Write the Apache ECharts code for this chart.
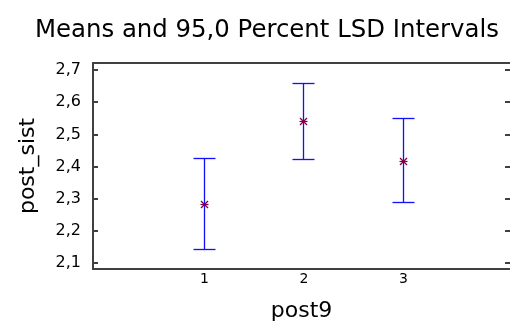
<!DOCTYPE html>
<html><head><meta charset="utf-8">
<script src="https://cdn.jsdelivr.net/npm/echarts@6/dist/echarts.min.js"></script>
<style>html,body{margin:0;padding:0;background:#fff}#c{width:510px;height:327px}</style>
</head><body><div id="c"></div>
<script>
const categories = [1, 2, 3];
const means = [2.283, 2.541, 2.416];
const lower = [2.143, 2.423, 2.288];
const upper = [2.425, 2.659, 2.549];
const yTicks = [2.1, 2.2, 2.3, 2.4, 2.5, 2.6, 2.7];
const titleText = 'Means and 95,0 Percent LSD Intervals';
const xName = 'post9';
const yName = 'post_sist';

const FONT = '"DejaVu Sans", sans-serif';
const chart = echarts.init(document.getElementById('c'), null, {renderer: 'canvas'});
const fmt = v => v.toFixed(1).replace('.', ',');
const axisCol = '#404040';

const barData = categories.map((c, i) => [c, lower[i], upper[i]]);
const meanData = categories.map((c, i) => [c, means[i]]);
const px = v => Math.round(v - 0.5) + 0.5;

chart.setOption({
  animation: false,
  title: {
    text: titleText, left: 30, top: 14,
    textStyle: {fontFamily: FONT, fontSize: 24.4, fontWeight: 'normal', color: '#000'}
  },
  grid: {left: 93, right: 0, top: 63, bottom: 58},
  xAxis: [{
    type: 'value', min: -0.12, max: 4.07, position: 'bottom',
    name: xName, nameLocation: 'middle', nameGap: 31,
    nameTextStyle: {fontFamily: FONT, fontSize: 22, color: '#000'},
    axisLine: {show: true, onZero: false, lineStyle: {color: axisCol, width: 2}},
    axisTick: {show: false},
    splitLine: {show: false},
    axisLabel: {customValues: categories, fontFamily: FONT, fontSize: 14, color: '#000', margin: 3,
      formatter: v => String(v)}
  }, {
    type: 'value', min: -0.12, max: 4.07, position: 'top',
    axisLine: {show: true, onZero: false, lineStyle: {color: axisCol, width: 2}},
    axisTick: {show: false}, axisLabel: {show: false}, splitLine: {show: false}
  }],
  yAxis: [{
    type: 'value', min: 2.081, max: 2.722, position: 'left',
    name: yName, nameLocation: 'middle', nameGap: 54,
    nameTextStyle: {fontFamily: FONT, fontSize: 22, color: '#000'},
    axisLine: {show: true, onZero: false, lineStyle: {color: axisCol, width: 2}},
    axisTick: {show: true, inside: true, length: 5, customValues: yTicks, lineStyle: {color: axisCol, width: 2}},
    splitLine: {show: false},
    axisLabel: {customValues: yTicks, formatter: fmt, fontFamily: FONT, fontSize: 16, color: '#000', margin: 12}
  }, {
    type: 'value', min: 2.081, max: 2.722, position: 'right',
    axisLine: {show: false, onZero: false},
    axisTick: {show: true, inside: true, length: 5, customValues: yTicks, lineStyle: {color: axisCol, width: 2}},
    splitLine: {show: false}, axisLabel: {show: false}
  }],
  series: [{
    type: 'custom', xAxisIndex: 0, yAxisIndex: 0,
    data: barData,
    renderItem: function (params, api) {
      const x = px(api.coord([api.value(0), api.value(1)])[0]);
      const yl = px(api.coord([api.value(0), api.value(1)])[1]);
      const yu = px(api.coord([api.value(0), api.value(2)])[1]);
      const w = 11;
      const st = {stroke: '#1010ff', lineWidth: 1.3};
      return {type: 'group', children: [
        {type: 'line', shape: {x1: x, y1: yl, x2: x, y2: yu}, style: st},
        {type: 'line', shape: {x1: x - w, y1: yl, x2: x + w, y2: yl}, style: st},
        {type: 'line', shape: {x1: x - w, y1: yu, x2: x + w, y2: yu}, style: st}
      ]};
    }
  }, {
    type: 'custom', xAxisIndex: 0, yAxisIndex: 0,
    data: meanData, z: 5,
    renderItem: function (params, api) {
      const c = api.coord([api.value(0), api.value(1)]);
      const p = [px(c[0]), px(c[1])];
      const s = 3.5, st = {stroke: '#800040', lineWidth: 1.2};
      return {type: 'group', children: [
        {type: 'line', shape: {x1: p[0] - s, y1: p[1] - s, x2: p[0] + s, y2: p[1] + s}, style: st},
        {type: 'line', shape: {x1: p[0] - s, y1: p[1] + s, x2: p[0] + s, y2: p[1] - s}, style: st},
        {type: 'line', shape: {x1: p[0] - s - 0.5, y1: p[1], x2: p[0] + s + 0.5, y2: p[1]}, style: st}
      ]};
    }
  }]
});
</script></body></html>
